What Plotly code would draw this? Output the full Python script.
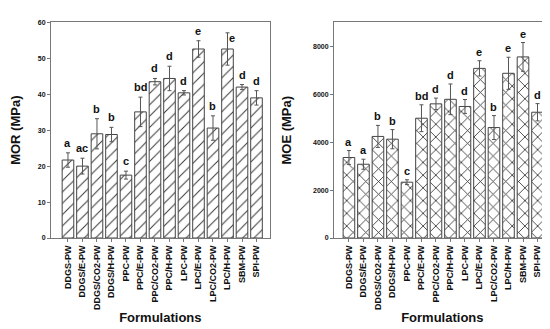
import plotly.graph_objects as go
from plotly.subplots import make_subplots

formulations = ["DDGS-PW", "DDGS/E-PW", "DDGS/CO2-PW", "DDGS/H-PW", "PPC-PW", "PPC/E-PW",
                "PPC/CO2-PW", "PPC/H-PW", "LPC-PW", "LPC/E-PW", "LPC/CO2-PW", "LPC/H-PW",
                "SBM-PW", "SPI-PW"]
mor_mean = [21.7, 20.0, 29.0, 28.8, 17.5, 35.1, 43.5, 44.4, 40.4, 52.6, 30.6, 52.6, 42.0, 39.0]
mor_sd = [2.0, 2.2, 4.2, 2.0, 1.1, 4.1, 0.9, 3.4, 0.6, 2.3, 3.4, 4.5, 0.7, 2.0]
mor_letters = ["a", "ac", "b", "b", "c", "bd", "d", "d", "d", "e", "b", "e", "d", "d"]
moe_mean = [3360, 3080, 4240, 4125, 2330, 5000, 5600, 5790, 5490, 7080, 4610, 6875, 7560, 5250]
moe_sd = [290, 210, 460, 400, 100, 560, 240, 640, 290, 320, 500, 670, 600, 360]
moe_letters = ["a", "a", "b", "b", "c", "bd", "d", "d", "d", "e", "b", "e", "e", "d"]

W, H = 550, 329
FONT = "Liberation Sans, Arial, sans-serif"

fig = make_subplots(rows=1, cols=2)

def add_panel(col, mean, sd, shape, psize, sol):
    fig.add_trace(go.Bar(
        x=formulations, y=mean, width=0.8,
        marker=dict(color="white", line=dict(color="#444444", width=1),
                    pattern=dict(shape=shape, fgcolor="#333333", bgcolor="white",
                                 fgopacity=1, size=psize, solidity=sol)),
        error_y=dict(type="data", array=sd, symmetric=True, color="#555555",
                     thickness=1, width=2),
        showlegend=False), row=1, col=col)

add_panel(1, mor_mean, mor_sd, "/", 8, 0.12)
add_panel(2, moe_mean, moe_sd, "x", 9, 0.18)

ydom = [(H - 230) / H, (H - 14.4) / H]
axis_common = dict(showline=True, linecolor="#777777", linewidth=1, mirror=True,
                   ticks="outside", ticklen=3, tickcolor="#777777", showgrid=False,
                   zeroline=False, automargin=False)

fig.update_layout(
    width=W, height=H, margin=dict(l=0, r=0, t=0, b=0),
    paper_bgcolor="white", plot_bgcolor="white", bargap=0.2,
    font=dict(family=FONT, color="#111111"),
    xaxis=dict(domain=[43 / W, 261.7 / W], range=[-1.17, 13.91], tickangle=-90,
               tickfont=dict(size=9, family=FONT, weight="bold"),
               title=dict(text="<b>Formulations</b>", font=dict(size=13), standoff=3),
               **axis_common),
    xaxis2=dict(domain=[326 / W, 542.7 / W], range=[-1.03, 13.91], tickangle=-90,
                tickfont=dict(size=9, family=FONT, weight="bold"),
                title=dict(text="<b>Formulations</b>", font=dict(size=13), standoff=3),
                **axis_common),
    yaxis=dict(domain=ydom, range=[0, 60], tickvals=[0, 10, 20, 30, 40, 50, 60],
               tickfont=dict(size=7, family=FONT, weight="bold"),
               title=dict(text="<b>MOR (MPa)</b>", font=dict(size=13), standoff=18),
               **axis_common),
    yaxis2=dict(domain=ydom, range=[0, 9000], tickvals=[0, 2000, 4000, 6000, 8000],
                tickfont=dict(size=7, family=FONT, weight="bold"),
                title=dict(text="<b>MOE (MPa)</b>", font=dict(size=13), standoff=18),
                **axis_common),
)

annotations = []
for i, f in enumerate(formulations):
    xs, ys = 0, 10
    if f == "LPC/H-PW":
        xs, ys = 4, -5
    annotations.append(dict(x=f, y=mor_mean[i] + mor_sd[i], xref="x", yref="y",
                            text="<b>" + mor_letters[i] + "</b>", showarrow=False,
                            yanchor="middle", xshift=xs, yshift=ys,
                            font=dict(size=11, family=FONT, color="#111111")))
    annotations.append(dict(x=f, y=moe_mean[i] + moe_sd[i], xref="x2", yref="y2",
                            text="<b>" + moe_letters[i] + "</b>", showarrow=False,
                            yanchor="middle", yshift=9,
                            font=dict(size=11, family=FONT, color="#111111")))
fig.update_layout(annotations=annotations)

fig.write_html("out.html")
